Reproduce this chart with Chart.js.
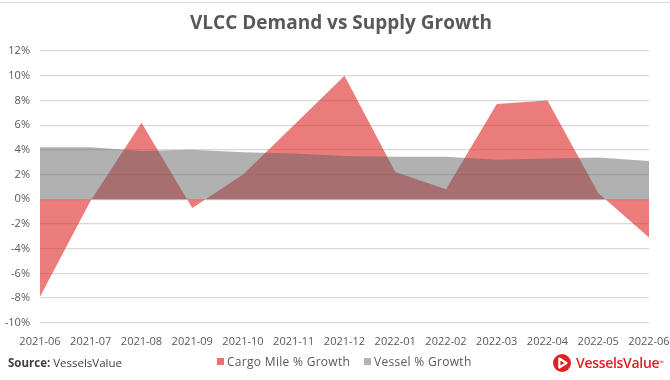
<!DOCTYPE html>
<html>
<head>
<meta charset="utf-8">
<script src="https://cdn.jsdelivr.net/npm/chart.js@4/dist/chart.umd.min.js"></script>
<style>
  html, body { margin: 0; padding: 0; background: #fff; }
  #wrap { position: relative; width: 670px; height: 380px; overflow: hidden; font-family: "Open Sans", sans-serif; }
  #topline { position: absolute; left: 0; top: 2px; width: 670px; height: 1px; background: #d9d9d9; }
  canvas { position: absolute; left: 0; top: 0; }
  #title { position: absolute; left: 0; width: 682px; top: 9px; text-align: center; font-size: 19px; line-height: 26px; font-weight: 700; color: #595959; }
  #source { position: absolute; left: 8px; top: 355px; font-size: 11.5px; color: #404040; }
  #source b { font-weight: 700; }
  .leg { position: absolute; top: 354px; font-size: 12px; letter-spacing: 0.3px; color: #595959; white-space: nowrap; line-height: 16px; }
  .leg i { position: absolute; left: -10px; top: 4px; width: 7px; height: 7px; }
  #logo { position: absolute; left: 553px; top: 353px; display: flex; align-items: center; color: #e31e24; font-weight: 600; font-size: 14px; letter-spacing: -0.3px; white-space: nowrap; }
  #logo svg { margin-right: 5px; }
</style>
</head>
<body>
<div id="wrap">
  <div id="topline"></div>
  <canvas id="c" width="670" height="380"></canvas>
  <div id="title">VLCC Demand vs Supply Growth</div>
  <div id="source"><b>Source:</b> VesselsValue</div>
  <div id="legend"></div>
  <div id="logo">
    <svg width="18" height="18" viewBox="0 0 20 20"><circle cx="10" cy="10" r="10" fill="#e31e24"/><path d="M7 5 L15 10 L7 15 Z" fill="none" stroke="#fff" stroke-width="2.4" stroke-linejoin="round"/></svg>
    <span>VesselsValue</span><sup style="font-size:6px;font-weight:400;">™</sup>
  </div>
</div>
<script>
const months = ['2021-06','2021-07','2021-08','2021-09','2021-10','2021-11','2021-12','2022-01','2022-02','2022-03','2022-04','2022-05','2022-06'];
const cargoMileGrowth = [-7.9, -0.1, 6.2, -0.7, 2.0, 6.0, 10.0, 2.2, 0.8, 7.7, 8.0, 0.5, -3.1];
const vesselGrowth = [4.2, 4.2, 3.9, 4.0, 3.8, 3.7, 3.5, 3.45, 3.45, 3.2, 3.3, 3.37, 3.1];
const yMin = -10, yMax = 12, yStep = 2;

const ctx = document.getElementById('c');
const chart = new Chart(ctx, {
  type: 'line',
  data: {
    labels: months,
    datasets: [
      {
        label: 'Vessel % Growth',
        data: vesselGrowth,
        fill: 'origin',
        backgroundColor: 'rgba(100,100,100,0.5)',
        borderWidth: 0,
        pointRadius: 0,
        tension: 0
      },
      {
        label: 'Cargo Mile % Growth',
        data: cargoMileGrowth,
        fill: 'origin',
        backgroundColor: 'rgba(222,44,44,0.62)',
        borderWidth: 0,
        pointRadius: 0,
        tension: 0
      }
    ]
  },
  options: {
    responsive: false,
    animation: false,
    layout: { padding: { left: 0, right: 21, top: 51, bottom: 20 } },
    plugins: {
      title: { display: false },
      legend: { display: false },
      tooltip: { enabled: false }
    },
    scales: {
      x: {
        offset: false,
        grid: { display: false, drawTicks: false },
        border: { display: false },
        ticks: {
          color: '#595959',
          font: { family: 'Open Sans', size: 11 },
          maxRotation: 0,
          autoSkip: false,
          padding: 12
        },
        afterFit: (s) => { s.paddingLeft = 0; s.paddingRight = 0; }
      },
      y: {
        min: yMin,
        max: yMax,
        grid: {
          color: '#d9d9d9',
          lineWidth: 1.2,
          drawTicks: false
        },
        border: { display: false },
        ticks: {
          stepSize: yStep,
          color: '#595959',
          font: { family: 'Open Sans', size: 11 },
          padding: 10,
          callback: (v) => v + '%'
        },
        afterFit: (s) => { s.width = 40; s.paddingTop = 0; }
      }
    }
  }
});

// HTML legend built from the chart's datasets
const legendPos = { 'Cargo Mile % Growth': 227, 'Vessel % Growth': 374 };
const legendColor = { 'Cargo Mile % Growth': '#e57373', 'Vessel % Growth': '#b3b3b3' };
const legEl = document.getElementById('legend');
['Cargo Mile % Growth', 'Vessel % Growth'].forEach((name) => {
  const d = document.createElement('div');
  d.className = 'leg';
  d.style.left = legendPos[name] + 'px';
  d.innerHTML = '<i style="background:' + legendColor[name] + '"></i>' + name;
  legEl.appendChild(d);
});
</script>
</body>
</html>
